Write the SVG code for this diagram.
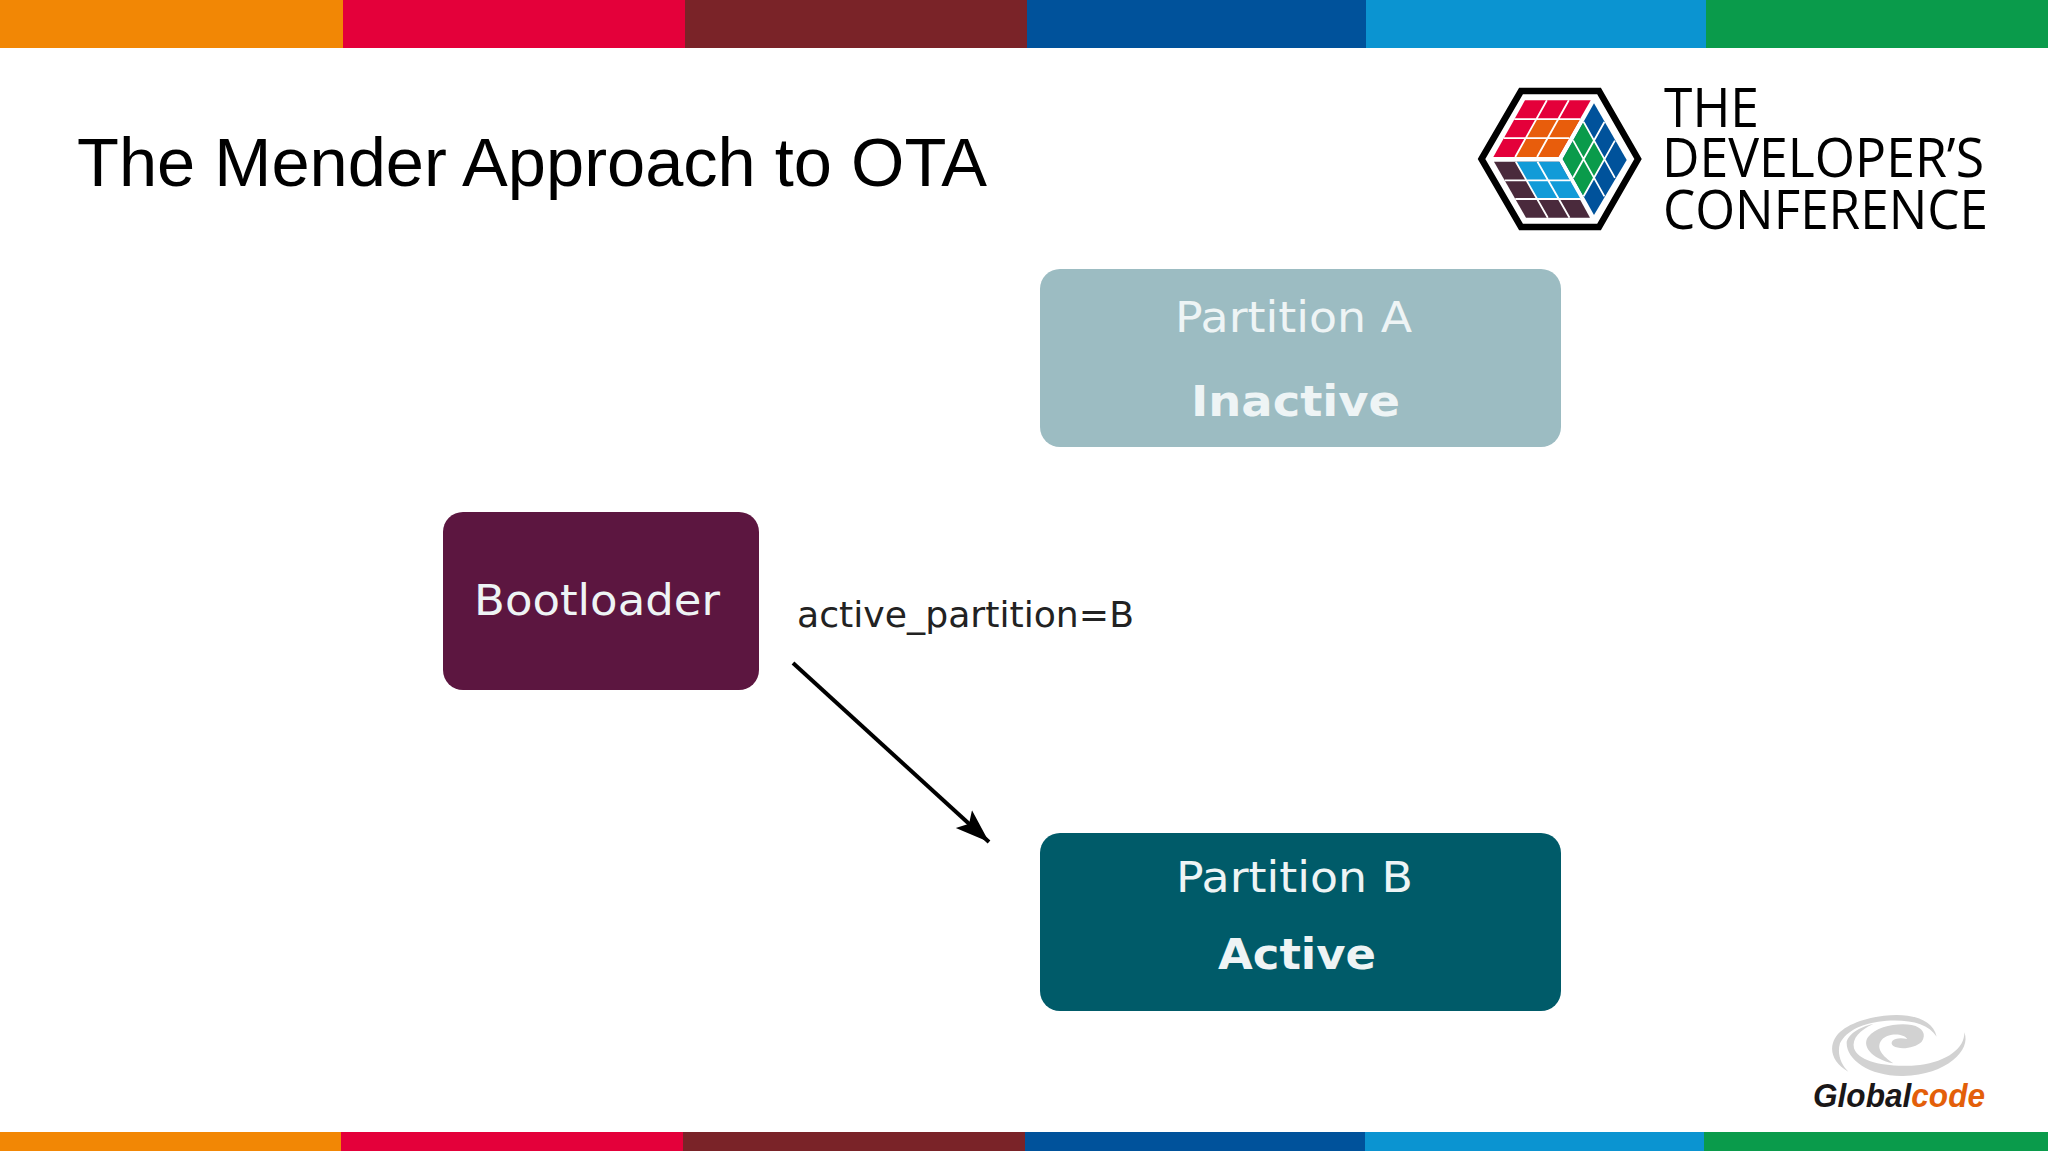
<svg xmlns="http://www.w3.org/2000/svg" width="2048" height="1152" viewBox="0 0 2048 1152">
<style>
.lbl{font-family:"DejaVu Sans",sans-serif;fill:#eef4f5}
.b{font-weight:700}
.box{stroke:none}
.grid{stroke:#fff;stroke-width:1.8;fill:none}
.logo{font-family:"Open Sans","Noto Sans",sans-serif;font-size:55px;fill:#000}
.gc{font-family:"Liberation Sans",Arial,sans-serif;font-weight:700;font-style:italic;font-size:34px}
</style>
<defs>
<marker id="ah" markerUnits="userSpaceOnUse" markerWidth="36" markerHeight="30" refX="34" refY="15" orient="auto">
<path d="M0 3L34 15L0 27L7 15Z" fill="#000"/>
</marker>
</defs>
<rect width="2048" height="1152" fill="#fff"/>
<g id="top-bar">
<rect x="0" y="0" width="343" height="48" fill="#f28705"/>
<rect x="343" y="0" width="342" height="48" fill="#e4003a"/>
<rect x="685" y="0" width="342" height="48" fill="#7a2328"/>
<rect x="1027" y="0" width="339" height="48" fill="#00529b"/>
<rect x="1366" y="0" width="340" height="48" fill="#0b94d1"/>
<rect x="1706" y="0" width="342" height="48" fill="#0a9b4b"/>
</g>
<g id="bottom-bar">
<rect x="0" y="1132" width="341" height="19" fill="#f28705"/>
<rect x="341" y="1132" width="342" height="19" fill="#e4003a"/>
<rect x="683" y="1132" width="342" height="19" fill="#7a2328"/>
<rect x="1025" y="1132" width="340" height="19" fill="#00529b"/>
<rect x="1365" y="1132" width="339" height="19" fill="#0b94d1"/>
<rect x="1704" y="1132" width="344" height="19" fill="#0a9b4b"/>
</g>
<text id="title" x="77" y="186" font-family="Liberation Sans, Arial, sans-serif" font-size="68" fill="#000" textLength="910" lengthAdjust="spacingAndGlyphs">The Mender Approach to OTA</text>
<g id="logo-tdc">
<polygon points="1481.500,159 1521,91 1599,91 1638,159 1599,227 1521,227" fill="#fff" stroke="#000" stroke-width="6.500"/>
<polygon points="1525,100.300 1590.700,100.300 1558.300,157 1493.300,157" fill="#e4003a"/>
<polygon points="1536.200,119.200 1580,119.200 1558.300,157 1515.200,157" fill="#e85d0c"/>
<path class="grid" d="M1514.300 119.200H1580M1503.700 138.100H1569.300M1546.900 100.300L1515.200 157M1568.800 100.300L1537.100 157"/>
<polygon points="1494,161.700 1559.300,161.700 1590,217.700 1526,217.700" fill="#4a2a3c"/>
<polygon points="1515.800,161.700 1559.300,161.700 1580.600,199 1537.100,199" fill="#129bd8"/>
<path class="grid" d="M1504.700 180.400H1570M1515.300 199H1580.600M1515.800 161.700L1547.800 217.700M1537.500 161.700L1569.500 217.700"/>
<polygon points="1594,103.300 1626.700,160 1594,215 1562.700,159" fill="#00529b"/>
<polygon points="1562.700,159 1583.600,121.900 1604.400,159.200 1583.600,196.300" fill="#0a9b4b"/>
<path class="grid" d="M1573.100 140.400L1604.400 196.400M1583.600 121.900L1614.900 177.900M1573.100 177.700L1604.400 122M1583.600 196.300L1614.900 140.600"/>
<text class="logo" x="1664" y="127" textLength="95" lengthAdjust="spacingAndGlyphs">THE</text>
<text class="logo" x="1662" y="177" textLength="322" lengthAdjust="spacingAndGlyphs">DEVELOPER’S</text>
<text class="logo" x="1663" y="229" textLength="325" lengthAdjust="spacingAndGlyphs">CONFERENCE</text>
</g>
<g id="partition-a">
<rect class="box" x="1040" y="269" width="521" height="178" rx="20" fill="#9cbcc2"/>
<text class="lbl" x="1175" y="332" font-size="42" textLength="237" lengthAdjust="spacingAndGlyphs">Partition A</text>
<text class="lbl b" x="1191" y="416" font-size="42" textLength="209" lengthAdjust="spacingAndGlyphs">Inactive</text>
</g>
<g id="bootloader">
<rect class="box" x="443" y="512" width="316" height="178" rx="20" fill="#5c1640"/>
<text class="lbl" x="474" y="615" font-size="42" textLength="246" lengthAdjust="spacingAndGlyphs">Bootloader</text>
</g>
<g id="partition-b">
<rect class="box" x="1040" y="833" width="521" height="178" rx="20" fill="#005b69"/>
<text class="lbl" x="1176" y="892" font-size="42" textLength="237" lengthAdjust="spacingAndGlyphs">Partition B</text>
<text class="lbl b" x="1218" y="969" font-size="42" textLength="158" lengthAdjust="spacingAndGlyphs">Active</text>
</g>
<g id="connectors">
<line x1="793" y1="663" x2="989" y2="842" stroke="#000" stroke-width="4" marker-end="url(#ah)"/>
</g>
<text id="connector-label" x="797" y="627" font-family="DejaVu Sans, sans-serif" font-size="35" fill="#222" textLength="337" lengthAdjust="spacingAndGlyphs">active_partition=B</text>
<g id="logo-globalcode">
<g transform="translate(1780 1000) scale(0.3333)" fill="#d2d2d2">
<path d="M205 215C160 190 145 150 165 115C190 70 280 45 350 45C410 45 460 65 470 110C445 70 390 58 320 62C250 68 200 90 180 130C170 165 185 195 205 215Z"/>
<path d="M553 97C575 150 500 225 370 228C270 230 200 180 200 130C200 105 240 80 280 72C240 90 215 115 222 145C235 185 320 205 420 195C500 185 555 145 553 97Z"/>
<path d="M340 190C270 175 245 135 265 110C290 80 350 68 395 75C430 82 440 105 425 125C405 145 360 150 340 138C325 125 345 108 382 117C370 100 325 98 305 120C285 145 310 170 340 190Z"/>
</g>
<text class="gc" x="1813" y="1107" textLength="172" lengthAdjust="spacingAndGlyphs"><tspan fill="#1a1718">Global</tspan><tspan fill="#e35f0a">code</tspan></text>
</g>
</svg>
